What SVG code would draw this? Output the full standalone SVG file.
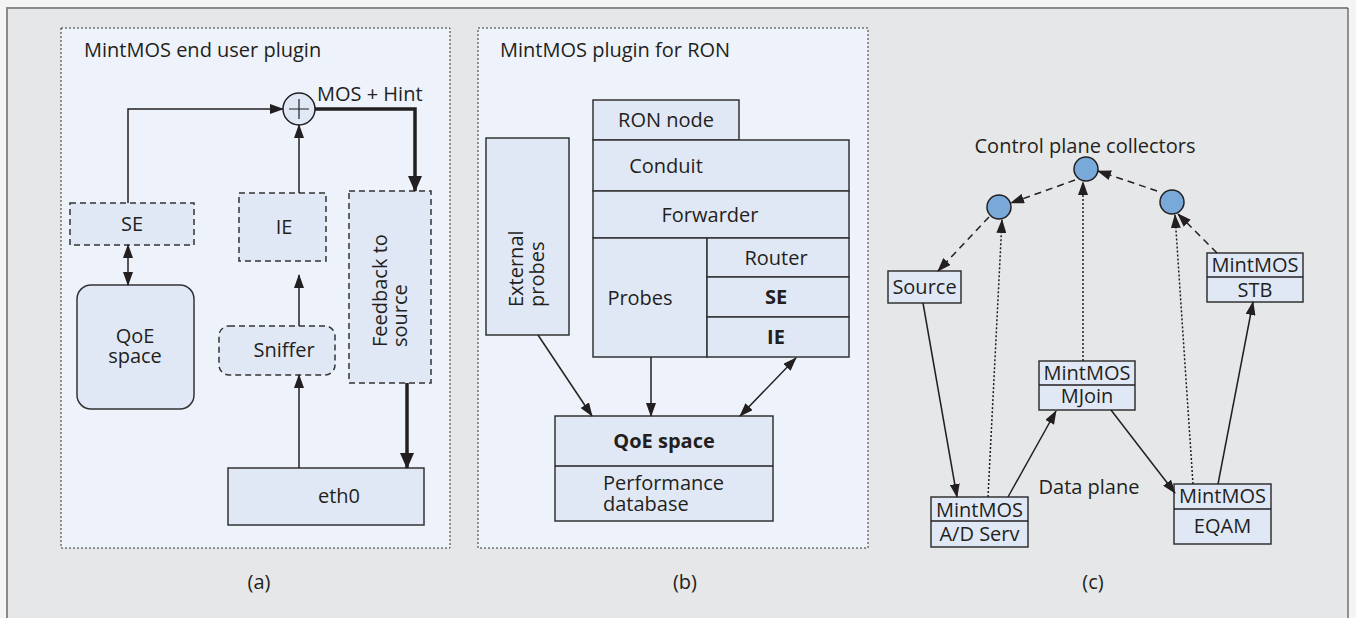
<svg xmlns="http://www.w3.org/2000/svg" width="1356" height="618" viewBox="0 0 1356 618">
<style>
text{font-family:"Open Sans","Liberation Sans",sans-serif;font-size:20px;fill:#231f20}
.c{text-anchor:middle}
.b{font-weight:bold}
.box{fill:#e1e8f5;stroke:#333;stroke-width:1.5}
.dbox{fill:#e1e8f5;stroke:#333;stroke-width:1.5;stroke-dasharray:6,4}
.panel{fill:#eef3fb;stroke:#333;stroke-width:1;stroke-dasharray:2,2}
.ln{fill:none;stroke:#231f20;stroke-width:1.5}
.thick{fill:none;stroke:#231f20;stroke-width:3.5}
.dash{fill:none;stroke:#231f20;stroke-width:1.5;stroke-dasharray:7,5}
.dot{fill:none;stroke:#231f20;stroke-width:1.5;stroke-dasharray:2,2}
.col{fill:#78a9d9;stroke:#231f20;stroke-width:1.5}
</style>
<defs>
<marker id="a" markerUnits="userSpaceOnUse" markerWidth="14" markerHeight="10" refX="13" refY="5" orient="auto-start-reverse" viewBox="0 0 14 10"><path d="M0,0 L14,5 L0,10 z" fill="#231f20"/></marker>
<marker id="at" markerUnits="userSpaceOnUse" markerWidth="16" markerHeight="14" refX="15" refY="7" orient="auto" viewBox="0 0 16 14"><path d="M0,0 L16,7 L0,14 z" fill="#231f20"/></marker>
</defs>
<rect x="0" y="0" width="1356" height="618" fill="#f4f4f4"/>
<rect x="7" y="8" width="1341" height="620" fill="#e6e7e8"/>
<path d="M7,628 V8 H1348" fill="none" stroke="#8a8a8a" stroke-width="2"/>
<path d="M1348,8 V628" fill="none" stroke="#333" stroke-width="1"/>

<!-- Panel (a) -->
<g id="panel-a">
<rect class="panel" x="61" y="28" width="389" height="520"/>
<text x="84" y="57">MintMOS end user plugin</text>
<text x="259" y="589" class="c">(a)</text>
</g>
<g id="sum">
<circle cx="299" cy="109" r="16" fill="#e1e8f5" stroke="#231f20" stroke-width="1.5"/>
<path d="M289,109 H309 M299,99 V119" stroke="#231f20" stroke-width="1.2" fill="none"/>
<text x="317" y="101">MOS + Hint</text>
</g>
<g id="se-a"><rect class="dbox" x="70" y="203" width="124" height="42"/><text x="132" y="231" class="c">SE</text></g>
<g id="ie-a"><rect class="dbox" x="239" y="193" width="87" height="68"/><text x="284" y="234" class="c">IE</text></g>
<g id="feedback"><rect class="dbox" x="349" y="191" width="82" height="192"/>
<g transform="translate(387,347) rotate(-90)"><text x="0" y="0">Feedback to</text><text x="0" y="20">source</text></g></g>
<g id="qoe-a"><rect class="box" x="77" y="285" width="117" height="124" rx="14"/><text x="135" y="343" class="c">QoE</text><text x="135" y="363" class="c">space</text></g>
<g id="sniffer"><rect class="dbox" x="219" y="326" width="116" height="49" rx="10"/><text x="284" y="357" class="c">Sniffer</text></g>
<g id="eth0"><rect class="box" x="228" y="468" width="196" height="57"/><text x="339" y="503" class="c">eth0</text></g>

<!-- Panel (b) -->
<g id="panel-b">
<rect class="panel" x="478" y="28" width="390" height="520"/>
<text x="500" y="57">MintMOS plugin for RON</text>
<text x="685" y="589" class="c">(b)</text>
</g>
<g id="ron-node"><rect class="box" x="593" y="100" width="146" height="40"/><text x="666" y="127" class="c">RON node</text></g>
<g id="conduit"><rect class="box" x="593" y="140" width="256" height="51"/><text x="666" y="173" class="c">Conduit</text></g>
<g id="forwarder"><rect class="box" x="593" y="191" width="256" height="47"/><text x="710" y="222" class="c">Forwarder</text></g>
<g id="probes"><rect class="box" x="593" y="238" width="114" height="119"/><text x="640" y="305" class="c">Probes</text></g>
<g id="router"><rect class="box" x="707" y="238" width="142" height="39"/><text x="776" y="265" class="c">Router</text></g>
<g id="se-b"><rect class="box" x="707" y="277" width="142" height="40"/><text x="776" y="304" class="c b">SE</text></g>
<g id="ie-b"><rect class="box" x="707" y="317" width="142" height="40"/><text x="776" y="344" class="c b">IE</text></g>
<g id="external"><rect class="box" x="486" y="138" width="83" height="197"/>
<g transform="translate(523,307) rotate(-90)"><text x="0" y="0">External</text><text x="0" y="21">probes</text></g></g>
<g id="qoe-b"><rect class="box" x="555" y="416" width="218" height="105"/><path d="M555,466 H773" class="ln"/>
<text x="664" y="448" class="c b">QoE space</text><text x="603" y="490">Performance</text><text x="603" y="511">database</text></g>

<!-- Panel (c) -->
<g id="panel-c">
<text x="1085" y="153" class="c">Control plane collectors</text>
<text x="1089" y="494" class="c">Data plane</text>
<text x="1093" y="589" class="c">(c)</text>
</g>
<g id="col-top"><circle class="col" cx="1086" cy="169" r="12"/></g>
<g id="col-left"><circle class="col" cx="999" cy="207" r="12"/></g>
<g id="col-right"><circle class="col" cx="1172" cy="202" r="12"/></g>
<g id="source"><rect class="box" x="888" y="271" width="73" height="32"/><text x="924.5" y="294" class="c">Source</text></g>
<g id="stb"><rect class="box" x="1207" y="253" width="96" height="49"/><path d="M1207,277 H1303" class="ln"/><text x="1255" y="272" class="c">MintMOS</text><text x="1255" y="297" class="c">STB</text></g>
<g id="mjoin"><rect class="box" x="1039" y="361" width="96" height="49"/><path d="M1039,385 H1135" class="ln"/><text x="1087" y="380" class="c">MintMOS</text><text x="1087" y="403" class="c">MJoin</text></g>
<g id="adserv"><rect class="box" x="931" y="497" width="97" height="50"/><path d="M931,521 H1028" class="ln"/><text x="979.5" y="517" class="c">MintMOS</text><text x="979.5" y="541" class="c">A/D Serv</text></g>
<g id="eqam"><rect class="box" x="1174" y="484" width="97" height="60"/><path d="M1174,509 H1271" class="ln"/><text x="1222.5" y="503" class="c">MintMOS</text><text x="1222.5" y="533" class="c">EQAM</text></g>

<g id="connectors">
<path class="ln" d="M128,203 V109 H283" marker-end="url(#a)"/>
<path class="ln" d="M299,193 V125" marker-end="url(#a)"/>
<path class="thick" d="M315,109 H415 V191" marker-end="url(#at)"/>
<path class="ln" d="M128,245 V285" marker-start="url(#a)" marker-end="url(#a)"/>
<path class="ln" d="M299,326 V275" marker-end="url(#a)"/>
<path class="ln" d="M299,468 V375" marker-end="url(#a)"/>
<path class="thick" d="M407,383 V468" marker-end="url(#at)"/>
<path class="ln" d="M538,335 L592,416" marker-end="url(#a)"/>
<path class="ln" d="M651,357 V416" marker-end="url(#a)"/>
<path class="ln" d="M796,358 L740,416" marker-start="url(#a)" marker-end="url(#a)"/>
<path class="dash" d="M1075,180 L1011,203" marker-end="url(#a)"/>
<path class="dash" d="M989,217 L938,271" marker-end="url(#a)"/>
<path class="dash" d="M1157,191 L1098,171" marker-end="url(#a)"/>
<path class="dash" d="M1217,253 L1178,214" marker-end="url(#a)"/>
<path class="dot" d="M988,497 L1002,220" marker-end="url(#a)"/>
<path class="dot" d="M1083,361 V182" marker-end="url(#a)"/>
<path class="dot" d="M1193,484 L1175,215" marker-end="url(#a)"/>
<path class="ln" d="M923,303 L957,497" marker-end="url(#a)"/>
<path class="ln" d="M1008,497 L1056,411" marker-end="url(#a)"/>
<path class="ln" d="M1111,410 L1175,493" marker-end="url(#a)"/>
<path class="ln" d="M1218,484 L1253,302" marker-end="url(#a)"/>
</g>
</svg>
